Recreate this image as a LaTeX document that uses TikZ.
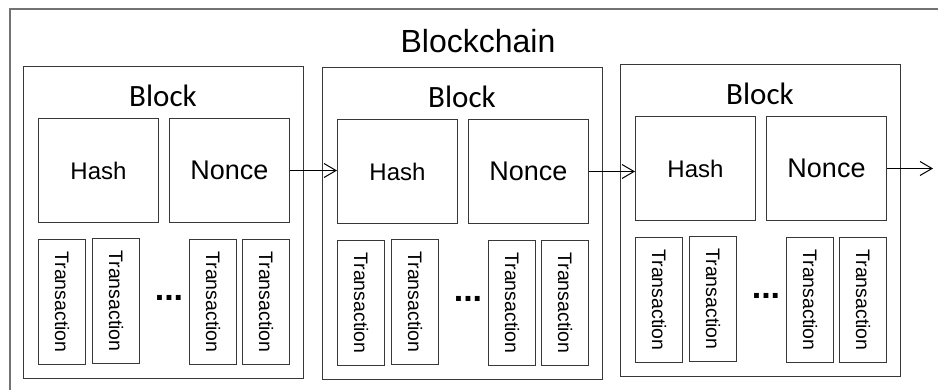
\documentclass[tikz,border=0pt]{standalone}
\usepackage{fontspec}
\setmainfont{Liberation Sans}
\newfontfamily\calibri{Carlito}
\usetikzlibrary{arrows.meta}
\tikzset{
  box/.style={draw=black!78, line width=1pt, rectangle, inner sep=0pt, anchor=north west},
  blockbox/.style={box, minimum width=280pt, minimum height=312pt},
  fieldbox/.style={box, minimum width=120pt, minimum height=104pt},
  txbox/.style={box, minimum width=47pt, minimum height=125pt},
  txtext/.style={rotate=-90, font=\fontsize{19.5pt}{20pt}\selectfont, inner sep=0pt},
  blocktitle/.style={font=\calibri\fontsize{31pt}{32pt}\selectfont, inner sep=0pt},
  chainarrow/.style={-{Straight Barb[length=12pt,width=14pt]}, line width=1pt, black}
}
\begin{document}
\begin{tikzpicture}[x=1pt,y=-1pt]
\useasboundingbox (0,0) rectangle (938,389);
\clip (0,0) rectangle (938,389);
\node[draw=black!55, line width=1.5pt, rectangle, inner sep=0pt, anchor=north west, minimum width=950pt, minimum height=400pt] (chain) at (9,8) {};
\node[font=\fontsize{32pt}{34pt}\selectfont, inner sep=0pt] (title) at (478,41) {Blockchain};
\foreach \i/\L/\T in {1/23/66, 2/322/67, 3/620/64}{
  \node[blockbox] (b\i) at (\L,\T) {};
  \node[blocktitle] (bt\i) at (\L+140,\T+30) {Block};
  \node[fieldbox] (h\i) at (\L+15,\T+52) {};
  \node[font=\fontsize{24pt}{26pt}\selectfont] (ht\i) at (h\i.center) {Hash};
  \node[fieldbox] (n\i) at (\L+146,\T+52) {};
  \node[font=\fontsize{27pt}{29pt}\selectfont] (nt\i) at (n\i.center) {Nonce};
  \node[txbox] (ta\i) at (\L+15,\T+173) {};
  \node[txbox] (tb\i) at (\L+69,\T+172) {};
  \node[txbox] (tc\i) at (\L+166,\T+173) {};
  \node[txbox] (td\i) at (\L+219,\T+173) {};
  \foreach \t in {a,b,c,d}{
    \node[txtext] (tt\t\i) at (t\t\i.center) {Transaction};
  }
  \node[font=\fontsize{34pt}{34pt}\selectfont\bfseries, inner sep=0pt] (dots\i) at (\L+146,\T+232) {...};
}
\draw[chainarrow] (n1.east) -- (n1.east -| h2.west);
\draw[chainarrow] (n2.east) -- (n2.east -| h3.west);
\coordinate (end) at (933,168);
\draw[chainarrow] (n3.east) -- (n3.east -| end);
\end{tikzpicture}
\end{document}
